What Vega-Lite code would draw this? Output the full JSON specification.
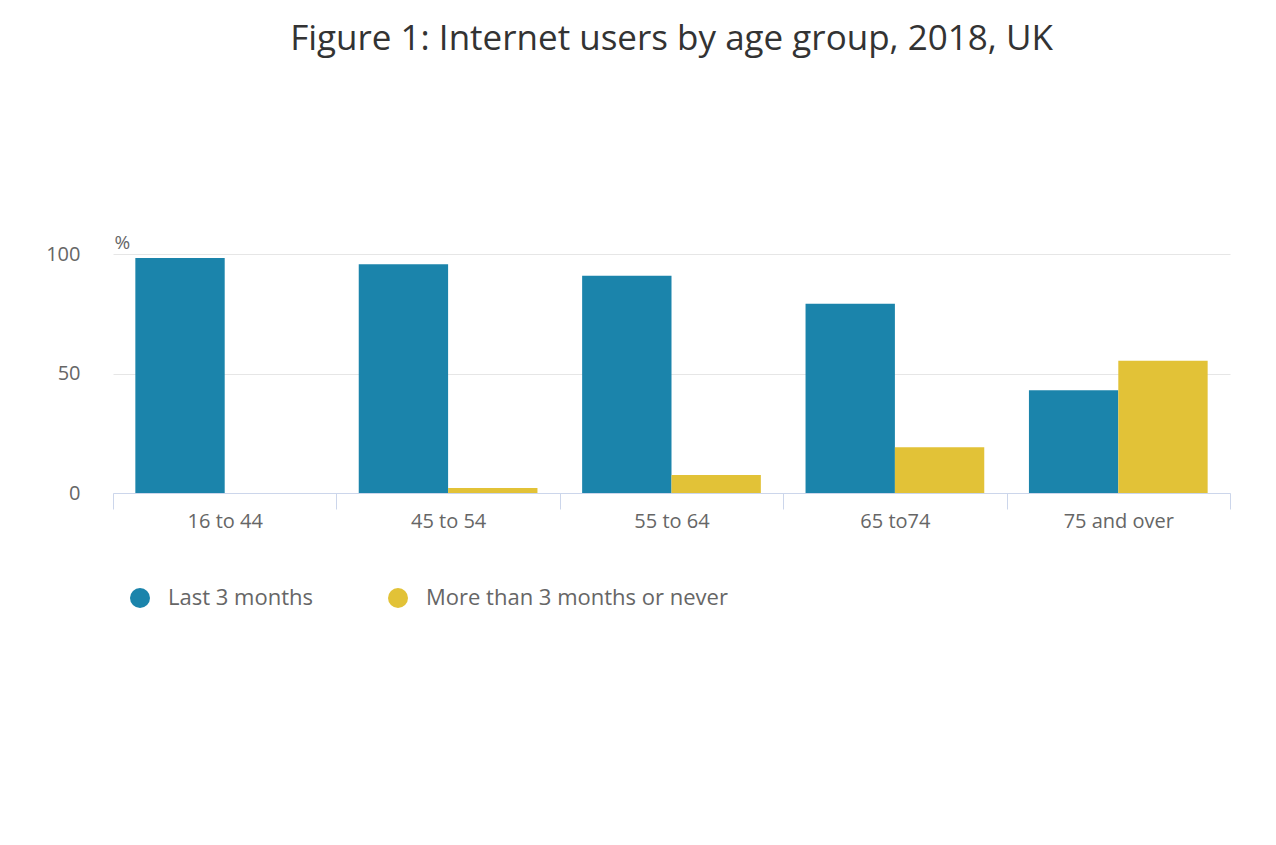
{
  "$schema": "https://vega.github.io/schema/vega-lite/v6.json",
  "autosize": "none",
  "width": 1117,
  "height": 239,
  "padding": {"left": 113, "top": 254, "right": 46, "bottom": 352},
  "background": "white",
  "config": {
    "font": "Open Sans",
    "view": {"stroke": null}
  },
  "title": {
    "text": "Figure 1: Internet users by age group, 2018, UK",
    "fontSize": 35,
    "fontWeight": "normal",
    "color": "#333333",
    "anchor": "middle",
    "offset": 176
  },
  "data": {
    "values": [
      {"age": "16 to 44", "series": "Last 3 months", "value": 98.3},
      {"age": "16 to 44", "series": "More than 3 months or never", "value": 0},
      {"age": "45 to 54", "series": "Last 3 months", "value": 95.7},
      {"age": "45 to 54", "series": "More than 3 months or never", "value": 2.1},
      {"age": "55 to 64", "series": "Last 3 months", "value": 90.9},
      {"age": "55 to 64", "series": "More than 3 months or never", "value": 7.5},
      {"age": "65 to74", "series": "Last 3 months", "value": 79.2},
      {"age": "65 to74", "series": "More than 3 months or never", "value": 19.1},
      {"age": "75 and over", "series": "Last 3 months", "value": 43.0},
      {"age": "75 and over", "series": "More than 3 months or never", "value": 55.3}
    ]
  },
  "mark": {"type": "bar"},
  "encoding": {
    "x": {
      "field": "age",
      "type": "nominal",
      "sort": null,
      "scale": {"paddingInner": 0, "paddingOuter": 0},
      "axis": {
        "title": null,
        "labelAngle": 0,
        "labelFontSize": 20,
        "labelColor": "#666666",
        "labelPadding": 2,
        "domainColor": "#ccd6eb",
        "tickColor": "#ccd6eb",
        "tickSize": 16,
        "tickBand": "extent",
        "grid": false
      }
    },
    "xOffset": {
      "field": "series",
      "type": "nominal",
      "scale": {"paddingOuter": 0.25, "paddingInner": 0}
    },
    "y": {
      "field": "value",
      "type": "quantitative",
      "scale": {"domain": [0, 100], "nice": false},
      "axis": {
        "values": [0, 50, 100],
        "domain": false,
        "ticks": false,
        "labelPadding": 33,
        "labelFontSize": 20,
        "labelColor": "#666666",
        "gridColor": "#e6e6e6",
        "title": "%",
        "titleAngle": 0,
        "titleX": 1,
        "titleY": -2,
        "titleAlign": "left",
        "titleBaseline": "bottom",
        "titleFontSize": 19,
        "titleFontWeight": "normal",
        "titleColor": "#666666"
      }
    },
    "color": {
      "field": "series",
      "type": "nominal",
      "scale": {"range": ["#1b84ab", "#e2c237"]},
      "legend": {
        "title": null,
        "orient": "none",
        "direction": "horizontal",
        "legendX": 16,
        "legendY": 333,
        "symbolType": "circle",
        "symbolSize": 400,
        "symbolStrokeWidth": 0,
        "symbolOpacity": 1,
        "labelFontSize": 22,
        "labelColor": "#666666",
        "labelOffset": 17,
        "labelLimit": 0,
        "columnPadding": 74
      }
    }
  }
}
